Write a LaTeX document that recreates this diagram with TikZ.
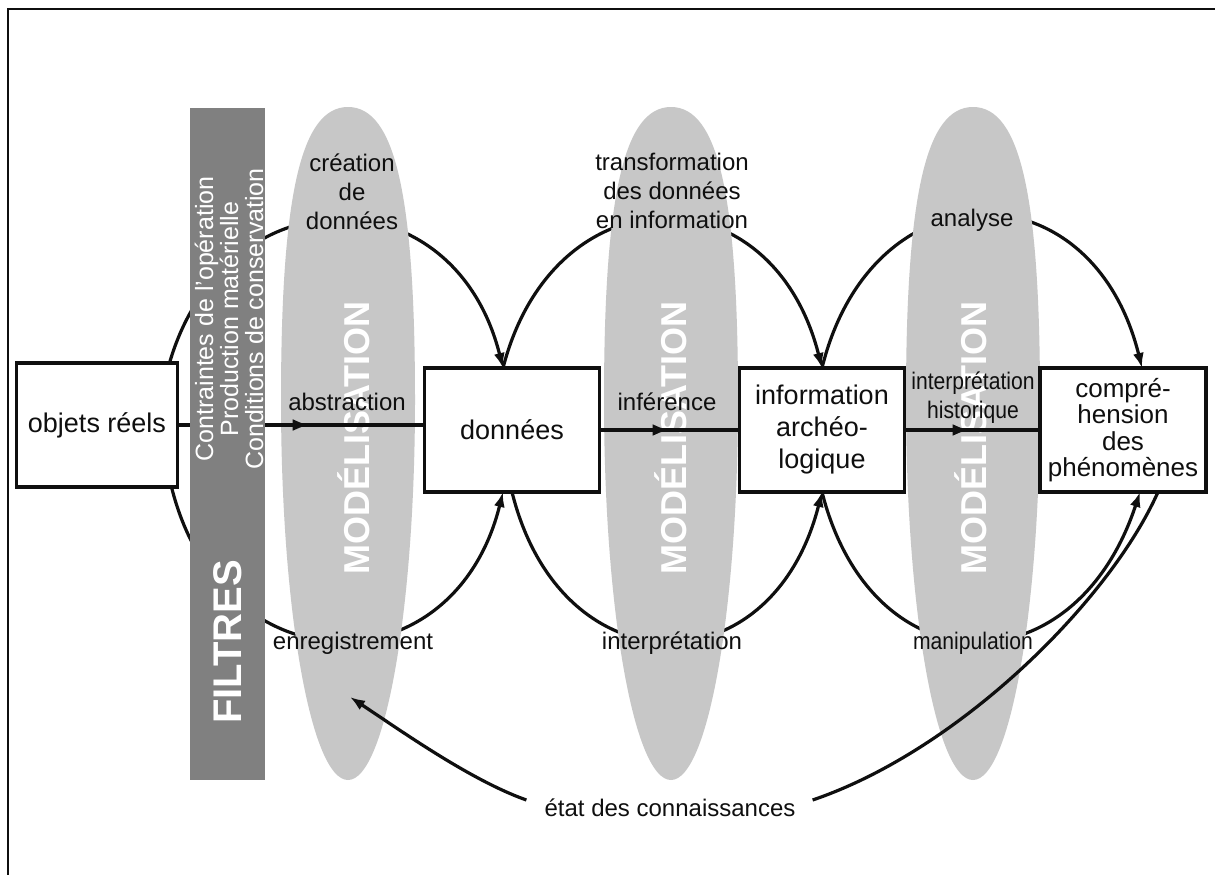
\documentclass[tikz,border=0pt]{standalone}
\usepackage{fontspec}
\setmainfont{Liberation Sans}
\newfontfamily\narrowfont[FakeStretch=0.88]{Liberation Sans}
\usetikzlibrary{arrows.meta,decorations.markings}
\definecolor{filtergray}{RGB}{128,128,128}
\definecolor{modelgray}{RGB}{199,199,199}
\definecolor{ink}{RGB}{15,15,15}
\pgfdeclarelayer{paper}
\pgfdeclarelayer{arcs}
\pgfdeclarelayer{shapes}
\pgfsetlayers{paper,arcs,shapes,main}
\tikzset{
  box/.style={draw=ink, line width=3.4pt, fill=white, align=center, inner sep=0pt, outer sep=0pt,
    text=ink, minimum height=124pt, font=\fontsize{27}{32}\selectfont},
  lbl/.style={text=ink, align=center, inner sep=0pt, font=\fontsize{24}{29}\selectfont},
  narrow/.style={font=\narrowfont\fontsize{24}{29}\selectfont},
  curvearrow/.style={draw=ink, line width=3.2pt, -{Latex[length=15pt,width=11pt]}},
  flow/.style={draw=ink, color=ink, line width=3.4pt},
  midarrow/.style={postaction={decorate, decoration={markings,
    mark=at position #1 with {\arrow{Latex[length=17pt,width=12pt]}}}}},
  modtext/.style={rotate=90, text=white, inner sep=0pt, font=\fontsize{36}{36}\selectfont\bfseries},
}
\begin{document}
\begin{tikzpicture}[x=1pt,y=-1pt]
\useasboundingbox (0,0) rectangle (1215,875);
\begin{pgfonlayer}{paper}
\fill[white] (0,0) rectangle (1215,875);
\draw[ink, line width=2.5pt] (8,875) -- (8,9) -- (1215,9);
\end{pgfonlayer}

% boxes
\node[box, minimum width=161pt] (objets) at (97,425) {objets réels};
\node[box, minimum width=175pt] (donnees) at (512,430) {données};
\node[box, minimum width=165pt] (info) at (822,430) {information\\archéo-\\logique};
\node[box, minimum width=166pt, font=\fontsize{26}{26.5}\selectfont] (comp) at (1123,430) {compré-\\hension\\des\\phénomènes};

% arcs, behind the ellipses
\begin{pgfonlayer}{arcs}
\draw[curvearrow] ([xshift=-8pt]objets.north east) .. controls (225,172) and (454,172) .. ([xshift=-9pt]donnees.north);
\draw[curvearrow] ([xshift=-9pt]donnees.north) .. controls (554,170) and (772,170) .. (info.north);
\draw[curvearrow] (info.north) .. controls (872,165) and (1092,165) .. ([xshift=19pt]comp.north);
\draw[curvearrow] ([xshift=-6pt]objets.south east) .. controls (222,690) and (454,690) .. ([xshift=-9pt]donnees.south);
\draw[curvearrow] (donnees.south) .. controls (561,690) and (772,690) .. (info.south);
\draw[curvearrow] (info.south) .. controls (872,690) and (1075,690) .. ([xshift=17pt]comp.south);
\end{pgfonlayer}

% modelisation ellipses
\begin{pgfonlayer}{shapes}
\foreach \cx/\tx in {348/354, 671/671, 973/971} {
  \fill[modelgray] (\cx,107) .. controls (\cx+47,107) and (\cx+67,195) .. (\cx+67,400)
    .. controls (\cx+67,609) and (\cx+37,780) .. (\cx,780)
    .. controls (\cx-37,780) and (\cx-67,609) .. (\cx-67,400)
    .. controls (\cx-67,195) and (\cx-47,107) .. (\cx,107) -- cycle;
  \node[modtext] (mod\cx) at (\tx,438) {MODÉLISATION};
}
\end{pgfonlayer}

% main flow
\draw[flow, midarrow=0.535] (objets.east) -- (objets.east -| donnees.west);
\draw[flow, midarrow=0.5] (donnees.east) -- (info.west);
\draw[flow, midarrow=0.48] (info.east) -- (comp.west);

% filters
\fill[filtergray] (190,108) rectangle (265,780);
\node[rotate=90, text=white, align=center, inner sep=0pt, font=\fontsize{25}{25}\selectfont] (contraintes) at (229,319)
  {Contraintes de l'opération\\Production matérielle\\Conditions de conservation};
\node[rotate=90, text=white, inner sep=0pt, font=\fontsize{40}{40}\selectfont\bfseries] (filtres) at (228,642) {FILTRES};

% labels
\node[lbl] (creation) at (352,192) {création\\de\\données};
\node[lbl] (transfo) at (672,191) {transformation\\des données\\en information};
\node[lbl] (analyse) at (972,220) {analyse};
\node[lbl] (abstraction) at (347,402) {abstraction};
\node[lbl] (inference) at (667,402) {inférence};
\node[lbl, narrow] (interhist) at (973,398) {interprétation\\historique};
\node[lbl] (enreg) at (353,643) {enregistrement};
\node[lbl] (interp) at (672,643) {interprétation};
\node[lbl, narrow] (manip) at (973,643) {manipulation};
\node[lbl] (etat) at (670,808) {état des connaissances};

% state of knowledge
\coordinate (ellTip) at (350,697);
\draw[ink, line width=3.2pt] ([xshift=35pt]comp.south) .. controls (1110,600) and (960,750) .. ([xshift=17pt,yshift=8pt]etat.east);
\draw[curvearrow] ([xshift=-18pt,yshift=8pt]etat.west) .. controls (470,780) and (400,730) .. (ellTip);
\end{tikzpicture}
\end{document}
